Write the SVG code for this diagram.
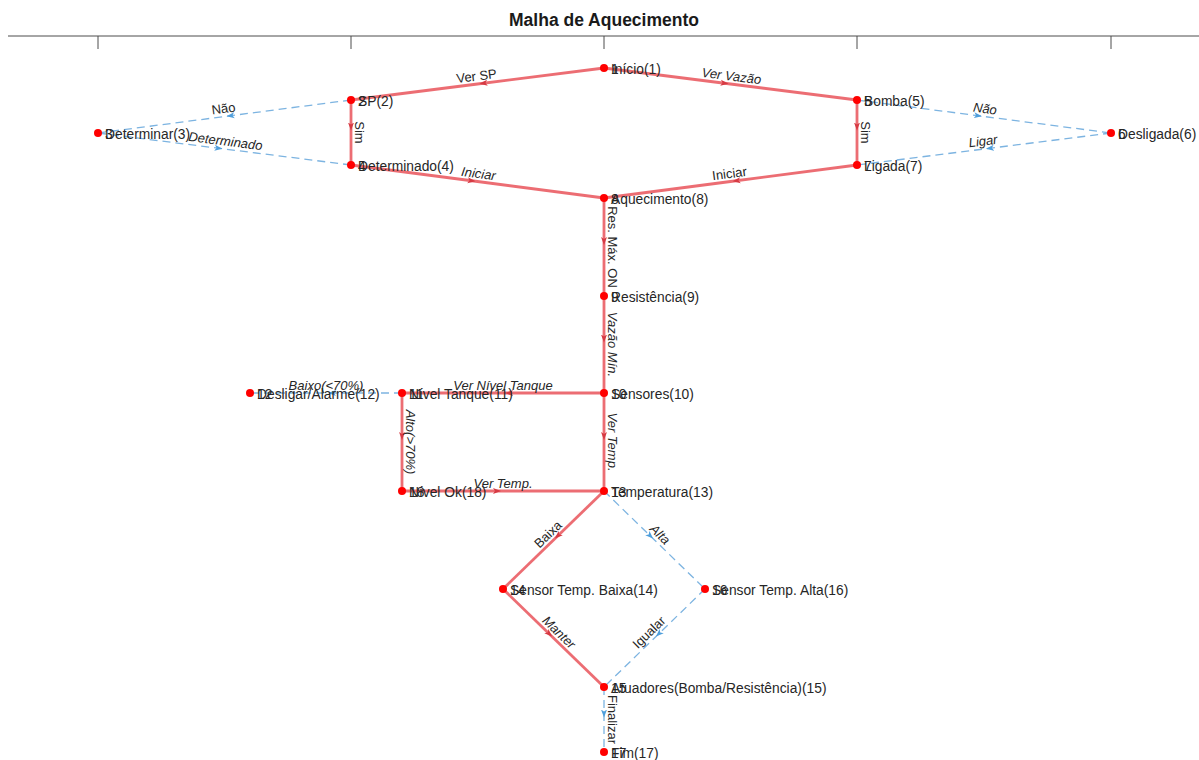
<svg xmlns="http://www.w3.org/2000/svg" width="1199" height="760" viewBox="0 0 1199 760">
<style>
.ax{stroke:#4d4d4d;stroke-width:1;fill:none}
.title{font-family:"Liberation Sans",Arial,sans-serif;font-weight:bold;font-size:17.5px;fill:#1a1a1a}
.hl{stroke:#e9545b;stroke-width:2.8;fill:none;stroke-opacity:0.85;marker-mid:url(#ar)}
.dl{stroke:#7db4e1;stroke-width:1.3;fill:none;stroke-dasharray:8,5;marker-mid:url(#ab)}
.nd{fill:#ff0000}
.nl{font-family:"Liberation Sans",Arial,sans-serif;font-size:13.8px;fill:#262626}
.el{font-family:"Liberation Sans",Arial,sans-serif;font-size:13px;fill:#262626;text-anchor:middle}
.it{font-style:italic}
</style>
<defs>
<marker id="ar" markerUnits="userSpaceOnUse" markerWidth="12" markerHeight="8" viewBox="0 0 12 8" refX="10" refY="4" orient="auto"><path d="M0,1 L8,4 L0,7 L2,4 z" fill="#d63a43"/></marker>
<marker id="ab" markerUnits="userSpaceOnUse" markerWidth="12" markerHeight="8" viewBox="0 0 12 8" refX="10" refY="4" orient="auto"><path d="M0,1 L8,4 L0,7 L2,4 z" fill="#4f9fdc"/></marker>
</defs>
<rect width="1199" height="760" fill="#ffffff"/>
<text class="title" x="604" y="26" text-anchor="middle">Malha de Aquecimento</text>
<g id="axis">
<line class="ax" x1="8" y1="36" x2="1199" y2="36"/>
<line class="ax" x1="98" y1="36" x2="98" y2="49"/>
<line class="ax" x1="351" y1="36" x2="351" y2="49"/>
<line class="ax" x1="604" y1="36" x2="604" y2="49"/>
<line class="ax" x1="857" y1="36" x2="857" y2="49"/>
<line class="ax" x1="1111" y1="36" x2="1111" y2="49"/>
</g>
<g id="connectors">
<path class="dl" d="M351,100 L224.5,116.5 L98,133"/>
<path class="dl" d="M98,133 L224.5,149 L351,165"/>
<path class="dl" d="M857,100 L984,116.5 L1111,133"/>
<path class="dl" d="M1111,133 L984,149 L857,165"/>
<path class="dl" d="M402,393 L326,393 L250,393"/>
<path class="dl" d="M604,491 L654.5,540 L705,589"/>
<path class="dl" d="M705,589 L654.5,638 L604,687"/>
<path class="dl" d="M604,687 L604,719.5 L604,752"/>
<path class="hl" d="M604,68 L477.5,84 L351,100"/>
<path class="hl" d="M351,100 L351,132.5 L351,165"/>
<path class="hl" d="M351,165 L477.5,181.5 L604,198"/>
<path class="hl" d="M604,68 L730.5,84 L857,100"/>
<path class="hl" d="M857,100 L857,132.5 L857,165"/>
<path class="hl" d="M857,165 L730.5,181.5 L604,198"/>
<path class="hl" d="M604,198 L604,247 L604,296"/>
<path class="hl" d="M604,296 L604,344.5 L604,393"/>
<path class="hl" d="M604,393 L503,393 L402,393"/>
<path class="hl" d="M402,393 L402,442 L402,491"/>
<path class="hl" d="M402,491 L503,491 L604,491"/>
<path class="hl" d="M604,393 L604,442 L604,491"/>
<path class="hl" d="M604,491 L553.5,540 L503,589"/>
<path class="hl" d="M503,589 L553.5,638 L604,687"/>
<g id="edge-labels">
<text class="el" transform="translate(477.5,84) rotate(-7.2)" y="-3.5">Ver SP</text>
<text class="el" transform="translate(351,132.5) rotate(90)" y="-3.5">Sim</text>
<text class="el it" transform="translate(477.5,181.5) rotate(7.4)" y="-3.5">Iniciar</text>
<text class="el it" transform="translate(730.5,84) rotate(7.2)" y="-3.5">Ver Vazão</text>
<text class="el" transform="translate(857,132.5) rotate(90)" y="-3.5">Sim</text>
<text class="el" transform="translate(730.5,181.5) rotate(-7.4)" y="-3.5">Iniciar</text>
<text class="el" transform="translate(604,247) rotate(90)" y="-3.5">Res. Máx. ON</text>
<text class="el it" transform="translate(604,344.5) rotate(90)" y="-3.5">Vazão Mín.</text>
<text class="el it" transform="translate(503,393)" y="-3.5">Ver Nível Tanque</text>
<text class="el it" transform="translate(402,442) rotate(90)" y="-3.5">Alto(&gt;70%)</text>
<text class="el it" transform="translate(503,491)" y="-3.5">Ver Temp.</text>
<text class="el it" transform="translate(604,442) rotate(90)" y="-3.5">Ver Temp.</text>
<text class="el" transform="translate(553.5,540) rotate(-44.1)" y="-3.5">Baixa</text>
<text class="el it" transform="translate(553.5,638) rotate(44.1)" y="-3.5">Manter</text>
<text class="el" transform="translate(224.5,116.5) rotate(-7.4)" y="-3.5">Não</text>
<text class="el it" transform="translate(224.5,149) rotate(7.2)" y="-3.5">Determinado</text>
<text class="el it" transform="translate(984,116.5) rotate(7.4)" y="-3.5">Não</text>
<text class="el it" transform="translate(984,149) rotate(-7.2)" y="-3.5">Ligar</text>
<text class="el it" transform="translate(326,393)" y="-3.5">Baixo(&lt;70%)</text>
<text class="el it" transform="translate(654.5,540) rotate(44.1)" y="-3.5">Alta</text>
<text class="el" transform="translate(654.5,638) rotate(-44.1)" y="-3.5">Igualar</text>
<text class="el" transform="translate(604,719.5) rotate(90)" y="-3.5">Finalizar</text>
</g>
</g>
<g id="n1"><circle class="nd" cx="604" cy="68" r="4"/><text class="nl" x="611" y="74">1</text><text class="nl" x="611" y="74">Início(1)</text></g>
<g id="n2"><circle class="nd" cx="351" cy="100" r="4"/><text class="nl" x="358" y="106">2</text><text class="nl" x="358" y="106">SP(2)</text></g>
<g id="n3"><circle class="nd" cx="98" cy="133" r="4"/><text class="nl" x="105" y="139">3</text><text class="nl" x="105" y="139">Determinar(3)</text></g>
<g id="n4"><circle class="nd" cx="351" cy="165" r="4"/><text class="nl" x="358" y="171">4</text><text class="nl" x="358" y="171">Determinado(4)</text></g>
<g id="n5"><circle class="nd" cx="857" cy="100" r="4"/><text class="nl" x="864" y="106">5</text><text class="nl" x="864" y="106">Bomba(5)</text></g>
<g id="n6"><circle class="nd" cx="1111" cy="133" r="4"/><text class="nl" x="1118" y="139">6</text><text class="nl" x="1118" y="139">Desligada(6)</text></g>
<g id="n7"><circle class="nd" cx="857" cy="165" r="4"/><text class="nl" x="864" y="171">7</text><text class="nl" x="864" y="171">Ligada(7)</text></g>
<g id="n8"><circle class="nd" cx="604" cy="198" r="4"/><text class="nl" x="611" y="204">8</text><text class="nl" x="611" y="204">Aquecimento(8)</text></g>
<g id="n9"><circle class="nd" cx="604" cy="296" r="4"/><text class="nl" x="611" y="302">9</text><text class="nl" x="611" y="302">Resistência(9)</text></g>
<g id="n10"><circle class="nd" cx="604" cy="393" r="4"/><text class="nl" x="611" y="399">10</text><text class="nl" x="611" y="399">Sensores(10)</text></g>
<g id="n11"><circle class="nd" cx="402" cy="393" r="4"/><text class="nl" x="409" y="399">11</text><text class="nl" x="409" y="399">Nível Tanque(11)</text></g>
<g id="n12"><circle class="nd" cx="250" cy="393" r="4"/><text class="nl" x="257" y="399">12</text><text class="nl" x="257" y="399">Desligar/Alarme(12)</text></g>
<g id="n13"><circle class="nd" cx="604" cy="491" r="4"/><text class="nl" x="611" y="497">13</text><text class="nl" x="611" y="497">Temperatura(13)</text></g>
<g id="n14"><circle class="nd" cx="503" cy="589" r="4"/><text class="nl" x="510" y="595">14</text><text class="nl" x="510" y="595">Sensor Temp. Baixa(14)</text></g>
<g id="n15"><circle class="nd" cx="604" cy="687" r="4"/><text class="nl" x="611" y="693">15</text><text class="nl" x="611" y="693">Atuadores(Bomba/Resistência)(15)</text></g>
<g id="n16"><circle class="nd" cx="705" cy="589" r="4"/><text class="nl" x="712" y="595">16</text><text class="nl" x="712" y="595">Sensor Temp. Alta(16)</text></g>
<g id="n17"><circle class="nd" cx="604" cy="752" r="4"/><text class="nl" x="611" y="758">17</text><text class="nl" x="611" y="758">Fim(17)</text></g>
<g id="n18"><circle class="nd" cx="402" cy="491" r="4"/><text class="nl" x="409" y="497">18</text><text class="nl" x="409" y="497">Nível Ok(18)</text></g>
</svg>
